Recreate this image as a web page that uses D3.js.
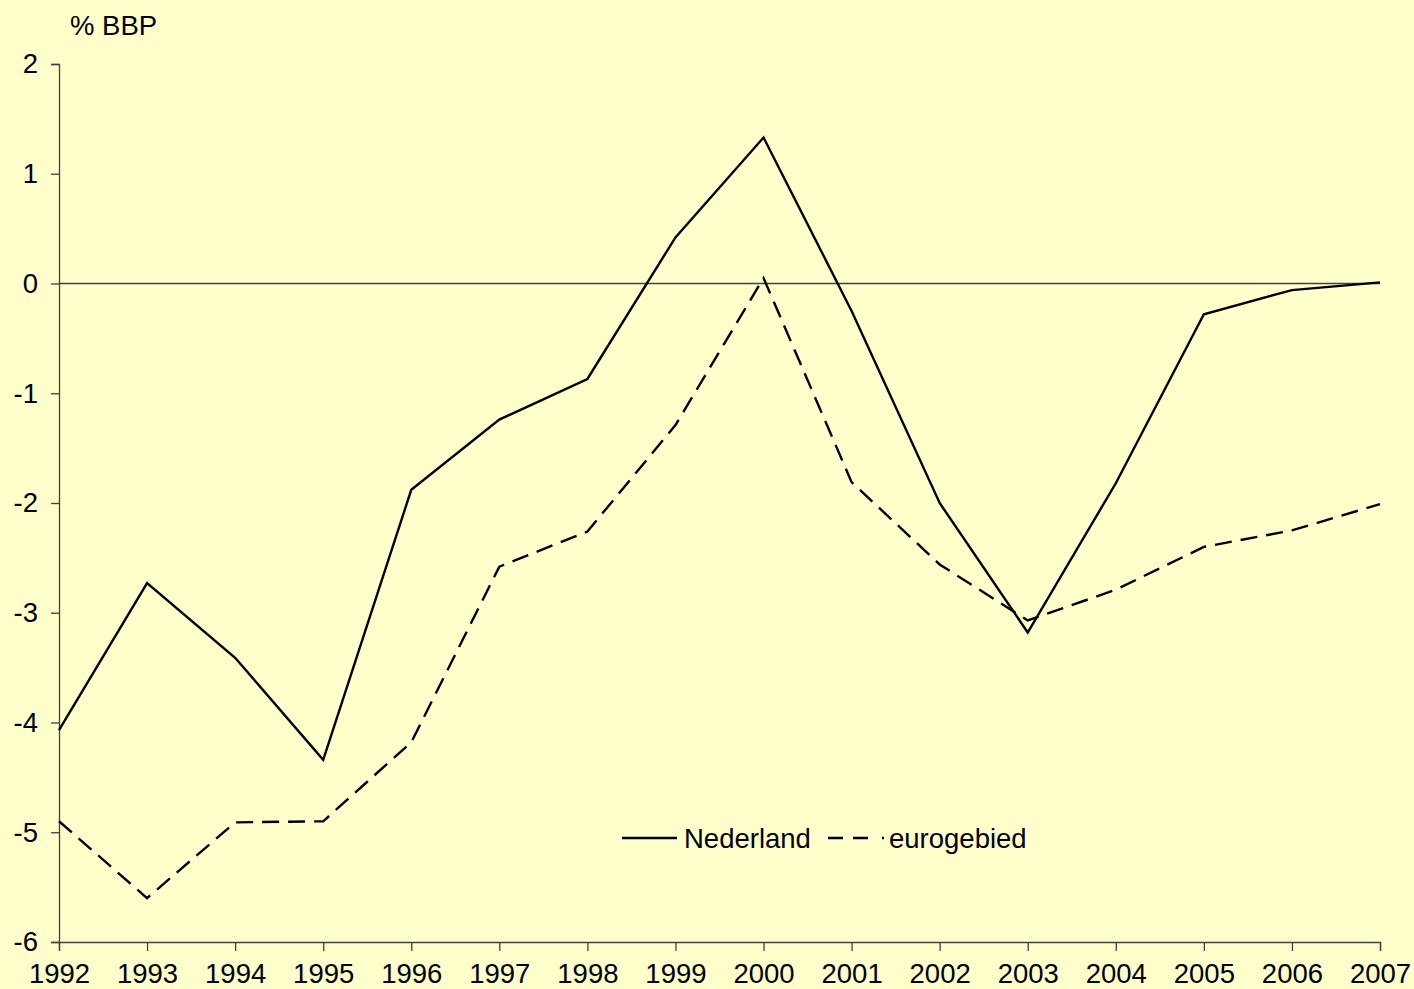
<!DOCTYPE html>
<html>
<head>
<meta charset="utf-8">
<script src="https://cdn.jsdelivr.net/npm/d3@7"></script>
<style>
  html, body { margin: 0; padding: 0; background: #ffffcc; }
  svg { display: block; font-family: "Liberation Sans", Arial, sans-serif; }
</style>
</head>
<body>
<div id="vis"></div>
<script>

var years = [1992, 1993, 1994, 1995, 1996, 1997, 1998, 1999, 2000, 2001, 2002, 2003, 2004, 2005, 2006, 2007];
var nederland = [-4.07, -2.73, -3.41, -4.34, -1.88, -1.24, -0.87, 0.42, 1.33, -0.25, -2.0, -3.18, -1.82, -0.28, -0.06, 0.01];
var eurogebied = [-4.9, -5.6, -4.91, -4.9, -4.18, -2.58, -2.26, -1.29, 0.05, -1.81, -2.56, -3.07, -2.79, -2.40, -2.25, -2.01];
var yTicks = [2, 1, 0, -1, -2, -3, -4, -5, -6];

var width = 1414;
var height = 989;
var margin = { left: 59, right: 34, top: 64, bottom: 47 };
var fontSize = '27.5px';

var svg = d3.select('#vis')
  .append('svg')
  .attr('width', width)
  .attr('height', height);

svg.append('rect')
  .attr('width', width)
  .attr('height', height)
  .attr('fill', '#ffffcc');

var x = d3.scaleLinear()
  .domain([1992, 2007])
  .range([margin.left, width - margin.right]);

var y = d3.scaleLinear()
  .domain([-6, 2])
  .range([height - margin.bottom, margin.top]);

var axisColor = '#404040';

// y axis (plain hyphen for negatives, like the original)
var yAxis = svg.append('g')
  .attr('transform', 'translate(' + margin.left + ',0)')
  .call(d3.axisLeft(y).tickValues(yTicks).tickSize(8).tickPadding(13).tickFormat(function (d) { return String(d); }));

// x axis
var xAxis = svg.append('g')
  .attr('transform', 'translate(0,' + y(-6) + ')')
  .call(d3.axisBottom(x).tickValues(years).tickSize(9).tickPadding(12).tickFormat(function (d) { return String(d); }));

[xAxis, yAxis].forEach(function (g) {
  g.select('.domain').attr('stroke', axisColor).attr('stroke-width', 1.3);
  g.selectAll('.tick line').attr('stroke', axisColor).attr('stroke-width', 1.3);
  g.selectAll('.tick text')
    .attr('fill', '#000')
    .style('font-size', fontSize)
    .style('font-family', '"Liberation Sans", Arial, sans-serif');
});

// zero line
svg.append('line')
  .attr('x1', x(1992))
  .attr('x2', x(2007))
  .attr('y1', y(0))
  .attr('y2', y(0))
  .attr('stroke', axisColor)
  .attr('stroke-width', 1.3);

var line = d3.line()
  .x(function (d, i) { return x(years[i]); })
  .y(function (d) { return y(d); });

svg.append('path')
  .datum(nederland)
  .attr('d', line)
  .attr('fill', 'none')
  .attr('stroke', '#000')
  .attr('stroke-width', 2.4)
  .attr('stroke-linejoin', 'miter');

svg.append('path')
  .datum(eurogebied)
  .attr('d', line)
  .attr('fill', 'none')
  .attr('stroke', '#000')
  .attr('stroke-width', 2.4)
  .attr('stroke-dasharray', '17,9');

// unit label
svg.append('text')
  .attr('x', 70)
  .attr('y', 35)
  .style('font-size', fontSize)
  .text('% BBP');

// legend
var legend = svg.append('g').attr('transform', 'translate(622,838)');

legend.append('line')
  .attr('x1', 0).attr('x2', 55)
  .attr('y1', 0).attr('y2', 0)
  .attr('stroke', '#000').attr('stroke-width', 2.4);

legend.append('text')
  .attr('x', 62).attr('y', 10)
  .style('font-size', fontSize)
  .text('Nederland');

legend.append('line')
  .attr('x1', 206).attr('x2', 262)
  .attr('y1', 0).attr('y2', 0)
  .attr('stroke', '#000').attr('stroke-width', 2.4)
  .attr('stroke-dasharray', '15,10,15,14,2,20');

legend.append('text')
  .attr('x', 267).attr('y', 10)
  .style('font-size', fontSize)
  .text('eurogebied');

</script>
</body>
</html>
